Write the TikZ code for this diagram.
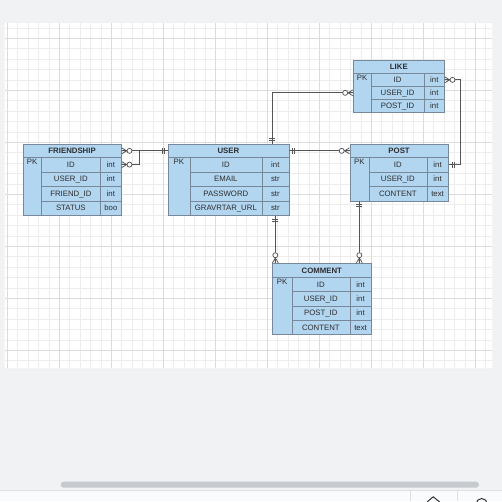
\documentclass[tikz,border=0pt]{standalone}
\usepackage{fontspec}
\setmainfont{Liberation Sans}
\usetikzlibrary{calc}

\definecolor{pagebg}{HTML}{F1F2F4}
\definecolor{barbg}{HTML}{FAFBFC}
\definecolor{gridminor}{HTML}{EDEDED}
\definecolor{gridmajor}{HTML}{DCDCDC}
\definecolor{erfill}{HTML}{B2D5F0}
\definecolor{erline}{HTML}{76889A}
\definecolor{ertext}{HTML}{2E2E2E}
\definecolor{wire}{HTML}{555555}
\definecolor{thumb}{HTML}{C6C9CE}

\tikzset{
  x=1pt, y=-1pt,
  erbase/.style={draw=erline, fill=erfill, line width=0.7pt, inner sep=0pt,
    anchor=north west, text=ertext, font=\fontsize{7.8}{9}\selectfont,
    text height=5.6pt, text depth=0pt},
  erhead/.style={erbase, font=\fontsize{7.8}{9}\selectfont\bfseries},
  ercell/.style={erbase},
  pklabel/.style={anchor=north, inner sep=0pt, text=ertext,
    font=\fontsize{7.8}{9}\selectfont},
  wire/.style={draw=wire, line width=0.75pt},
  zmany/.pic={
    \draw[wire] (0,-3) -- (5,0) -- (0,3) (0,0) -- (5,0);
    \draw[wire, fill=white] (7.8,0) circle[radius=2.5];
  },
  oneone/.pic={
    \draw[wire] (3.2,-3) -- (3.2,3) (5.2,-3) -- (5.2,3);
  }
}

% #1 table name, #2 left x, #3 top y, #4 PK column width, #5 name column width,
% #6 type column width, #7 header height, #8 row height, #9 rows (name/type)
\newcommand\ertable[9]{%
  \pgfmathsetmacro\erW{#4+#5+#6}
  \node[erhead, minimum width=\erW pt, minimum height=#7pt] (#1-h) at (#2,#3) {#1};
  \foreach \fname/\ftype [count=\i] in {#9} {
    \pgfmathsetmacro\ry{#3+#7+(\i-1)*#8}
    \node[ercell, minimum width=#5pt, minimum height=#8pt] (#1-n\i) at ({#2+#4},\ry) {\fname};
    \node[ercell, minimum width=#6pt, minimum height=#8pt] (#1-t\i) at ({#2+#4+#5},\ry) {\ftype};
    \xdef\erlast{\i}
  }
  \pgfmathsetmacro\erH{\erlast*#8}
  \node[erbase, minimum width=#4pt, minimum height=\erH pt] (#1-pk) at (#2,{#3+#7}) {};
  \node[pklabel] (#1-pktext) at ($(#1-pk.north)+(0,1.8)$) {PK};
}

\begin{document}
\begin{tikzpicture}
\useasboundingbox (0,0) rectangle (502,501);
\fill[pagebg] (0,0) rectangle (502,501);

% drawing canvas with a soft edge
\fill[black!6] (3.5,21.8) rectangle (493.5,370);
\fill[black!4] (4.3,22.6) rectangle (492.7,369.2);
\fill[white] (5,23.3) rectangle (492,368);

% grid
\begin{scope}
  \clip (5,23.3) rectangle (492,368);
  \foreach \k in {0,...,47}
    \draw[gridminor, line width=0.7pt] ({7.3+10.4*\k},23) -- (7.3+10.4*\k,368);
  \foreach \k in {-1,...,32}
    \draw[gridminor, line width=0.7pt] (5,{38.3+10.4*\k}) -- (492,38.3+10.4*\k);
  \foreach \k in {0,...,9}
    \draw[gridmajor, line width=0.8pt] ({7.3+52*\k},23) -- (7.3+52*\k,368);
  \foreach \k in {0,...,6}
    \draw[gridmajor, line width=0.8pt] (5,{38.3+52*\k}) -- (492,38.3+52*\k);
\end{scope}

% entities
\ertable{FRIENDSHIP}{22.5}{144}{18.5}{59}{21}{13}{14.5}{ID/int, USER\_ID/int, FRIEND\_ID/int, STATUS/boo}
\ertable{USER}{167.5}{144}{22}{72}{27}{13}{14.5}{ID/int, EMAIL/str, PASSWORD/str, GRAVRTAR\_URL/str}
\ertable{POST}{349.5}{144}{19}{58}{21.5}{13}{14.5}{ID/int, USER\_ID/int, CONTENT/text}
\ertable{LIKE}{353}{60}{17.5}{53.5}{20}{13}{13}{ID/int, USER\_ID/int, POST\_ID/int}
\ertable{COMMENT}{272}{263}{19.5}{58}{21.5}{14}{14.25}{ID/int, USER\_ID/int, POST\_ID/int, CONTENT/text}

% connector end points
\coordinate (frjoin) at ($(FRIENDSHIP-t1.east)+(17.3,0)$);
\coordinate (frjoin) at (frjoin |- FRIENDSHIP-h.east);
\coordinate (usertop) at ($(USER-h.north east)+(-17,0)$);
\coordinate (likeleft) at (LIKE-h.west |- LIKE-t2.center);
\coordinate (lpbend) at ($(LIKE-t1.east)+(15.3,0)$);
\coordinate (ctopuser) at (COMMENT-h.north -| USER-t4.south);
\coordinate (ctoppost) at (COMMENT-h.north -| POST-pk.south);

% relationships
\draw[wire] (FRIENDSHIP-h.east) -- (USER-h.west);
\draw[wire] (FRIENDSHIP-t1.east) -| (frjoin);
\draw[wire] (usertop) |- (likeleft);
\draw[wire] (USER-h.east) -- (POST-h.west);
\draw[wire] (LIKE-t1.east) -- (lpbend) |- (POST-t1.east);
\draw[wire] (USER-t4.south) -- (ctopuser);
\draw[wire] (POST-pk.south) -- (ctoppost);

% cardinality marks
\pic at (FRIENDSHIP-h.east) {zmany};
\pic at (FRIENDSHIP-t1.east) {zmany};
\pic[rotate=180] at (USER-h.west) {oneone};
\pic[rotate=90] at (usertop) {oneone};
\pic[rotate=180] at (likeleft) {zmany};
\pic at (USER-h.east) {oneone};
\pic[rotate=180] at (POST-h.west) {zmany};
\pic at (LIKE-t1.east) {zmany};
\pic at (POST-t1.east) {oneone};
\pic[rotate=270] at (USER-t4.south) {oneone};
\pic[rotate=90] at (ctopuser) {zmany};
\pic[rotate=270] at (POST-pk.south) {oneone};
\pic[rotate=90] at (ctoppost) {zmany};

% horizontal scroll bar and bottom toolbar
\fill[thumb, rounded corners=3pt] (60.7,481.7) rectangle (479,487.7);
\fill[barbg] (0,490.7) rectangle (502,501);
\draw[black!12, line width=0.7pt] (0,490.7) -- (502,490.7);
\draw[black!12, line width=0.7pt] (410.7,490.7) -- (410.7,501) (457.3,490.7) -- (457.3,501);
\begin{scope}
  \clip (0,490.7) rectangle (502,501);
  \draw[black!80, line width=1pt] (427,502) -- (433.3,496.8) -- (439.6,502);
  \draw[black!80, line width=1pt] (481.7,504) circle[radius=5.5];
\end{scope}
\end{tikzpicture}
\end{document}
